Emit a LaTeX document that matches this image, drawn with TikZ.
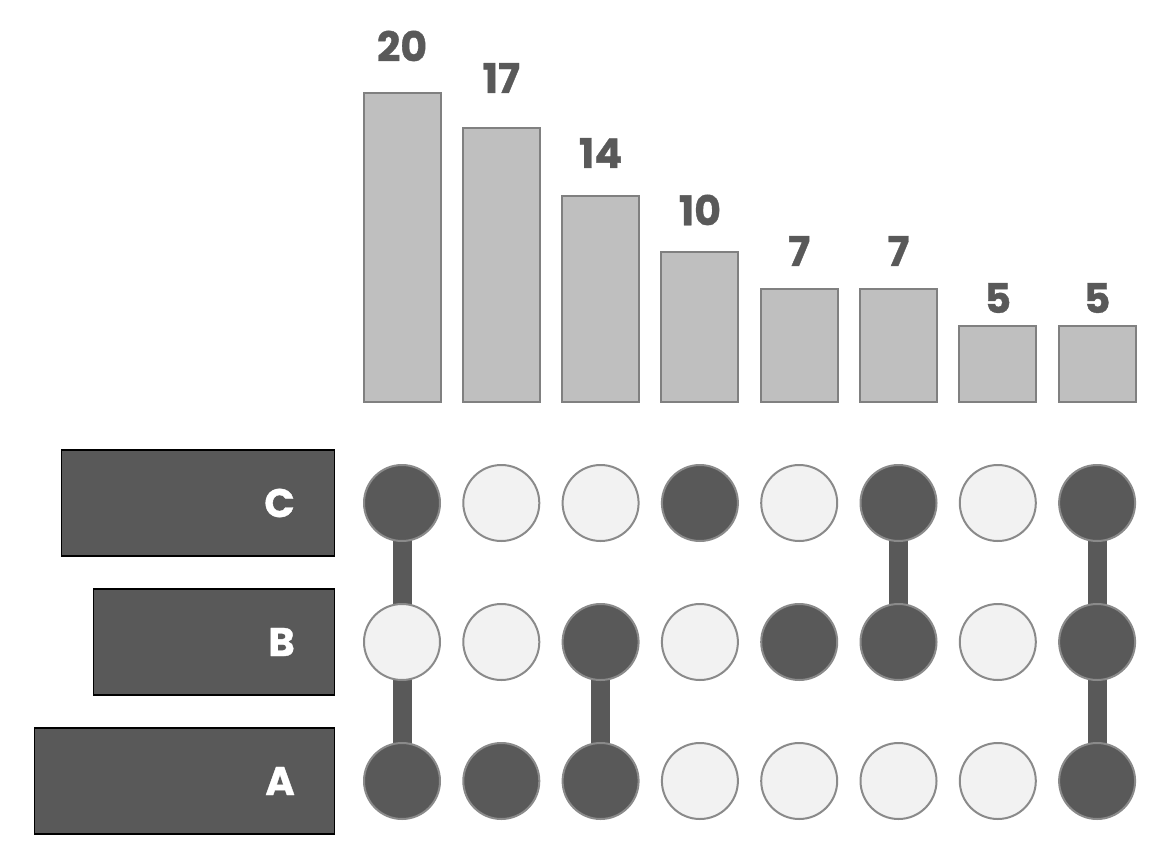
\documentclass[tikz,border=0pt]{standalone}
\usepackage{fontspec}
\setmainfont{Poppins}[BoldFeatures={FakeBold=0.9}]
\usepackage{tikz}
\usetikzlibrary{positioning, backgrounds}
\definecolor{darkfill}{HTML}{595959}
\definecolor{lightfill}{HTML}{F2F2F2}
\definecolor{barfill}{HTML}{BFBFBF}
\definecolor{barline}{HTML}{808080}
\definecolor{dotline}{HTML}{8A8A8A}

\begin{document}
\begin{tikzpicture}[x=1pt, y=-1pt,
				Bar/.style={draw=barline, fill=barfill, line width=2pt,
					minimum width=77pt, inner sep=0pt, anchor=south},
				Count/.style={text=darkfill, font=\fontsize{41}{41}\selectfont\bfseries},
				Dot/.style={circle, draw=dotline, line width=2pt,
					minimum size=76pt, inner sep=0pt},
				On/.style={Dot, fill=darkfill},
				Off/.style={Dot, fill=lightfill},
				SetBox/.style={draw=black, line width=1.5pt, fill=darkfill,
					minimum height=106pt, inner sep=0pt, anchor=east},
				SetName/.style={text=white, inner sep=0pt,
					font=\fontsize{40}{40}\selectfont\bfseries},
				Link/.style={draw=darkfill, line width=19pt}]
				\useasboundingbox (0,0) rectangle (1166,848);
				% intersection sizes
				\foreach \i/\top/\ly/\n in {1/94/46/20, 2/129/78/17, 3/197/153/14, 4/253/210/10,
						5/290/251/7, 6/290/251/7, 7/327/298/5, 8/327/298/5}{
						\node[Bar, minimum height={403-\top}] (bar\i) at ({402+99.3*(\i-1)},403) {};
						\node[Count] (num\i) at ({402+99.3*(\i-1)},\ly) {\n};
					}
				% membership dots
				\foreach \i/\c/\b/\a in {1/On/Off/On, 2/Off/Off/On, 3/Off/On/On, 4/On/Off/Off,
						5/Off/On/Off, 6/On/On/Off, 7/Off/Off/Off, 8/On/On/On}{
						\node[\c] (C\i) at ({402+99.3*(\i-1)},503) {};
						\node[\b] (B\i) at ({402+99.3*(\i-1)},642) {};
						\node[\a] (A\i) at ({402+99.3*(\i-1)},781) {};
					}
				\begin{scope}[on background layer]
					\draw[Link] (C1.center) -- (A1.center);
					\draw[Link] (B3.center) -- (A3.center);
					\draw[Link] (C6.center) -- (B6.center);
					\draw[Link] (C8.center) -- (A8.center);
				\end{scope}
				% set sizes
				\node[SetBox, minimum width=273pt] (setC) at (335,503) {};
				\node[SetBox, minimum width=241pt] (setB) at (335,642) {};
				\node[SetBox, minimum width=300pt] (setA) at (335,781) {};
				\node[SetName, left=40pt of setC.east] (nameC) {C};
				\node[SetName, left=40pt of setB.east] (nameB) {B};
				\node[SetName, left=40pt of setA.east] (nameA) {A};
			\end{tikzpicture}
\end{document}
